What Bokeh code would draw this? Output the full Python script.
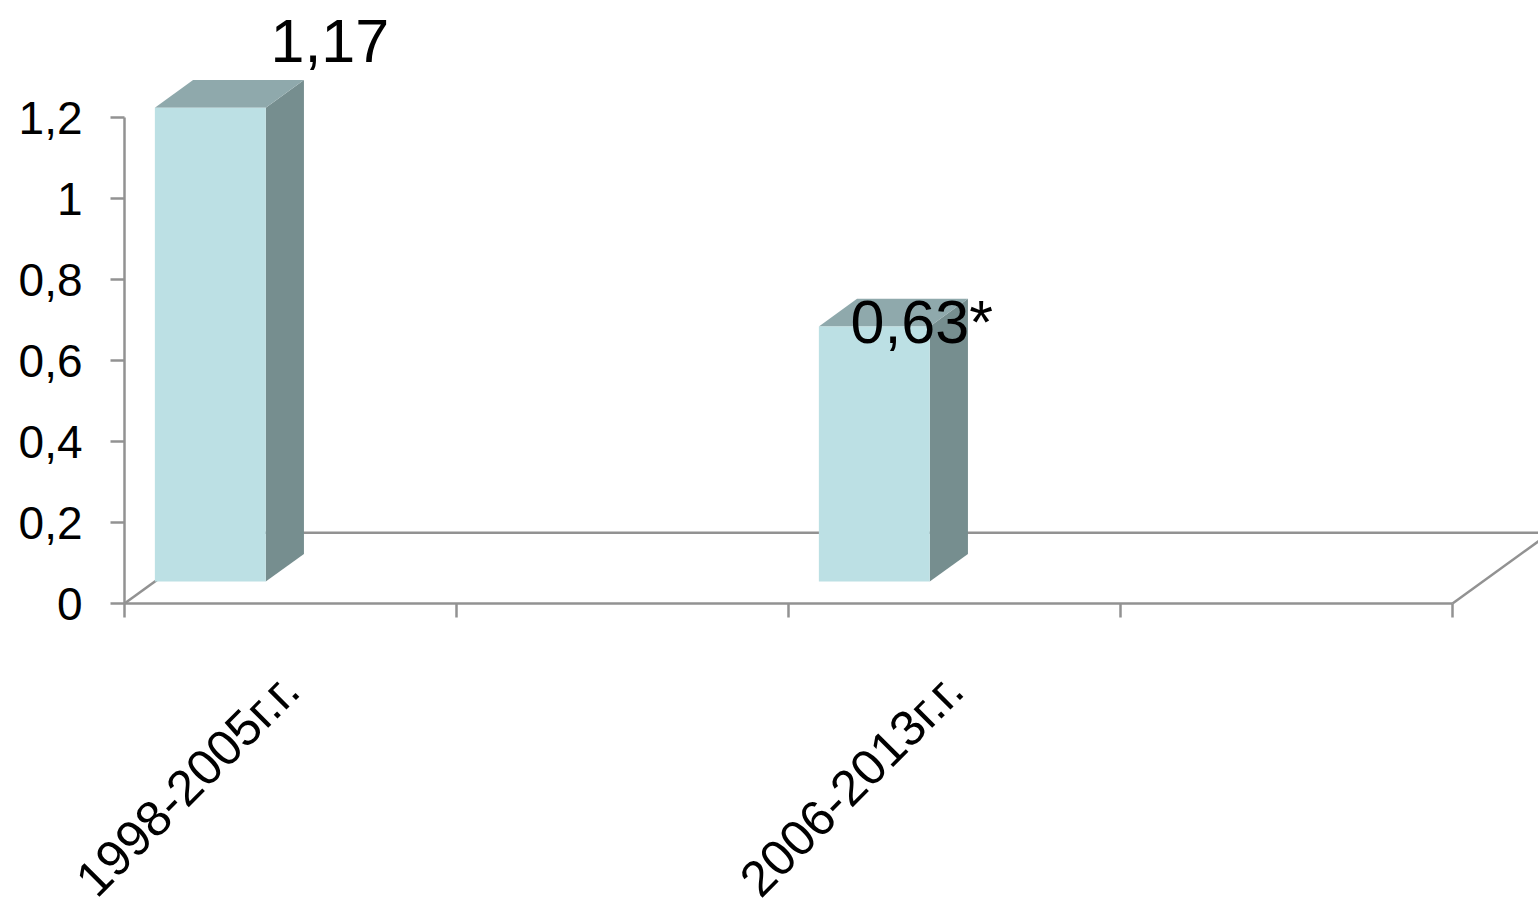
import math
from bokeh.plotting import figure
from bokeh.models import Range1d, FixedTicker, ColumnDataSource
from bokeh.core.properties import value
from bokeh.embed import file_html
from bokeh.resources import INLINE

# ---- data ----
slots = ["1998-2005г.г.", "", "2006-2013г.г.", ""]
values = [1.17, None, 0.63, None]
value_labels = ["1,17", None, "0,63*", None]
y_ticks = [0, 0.2, 0.4, 0.6, 0.8, 1.0, 1.2]
y_tick_labels = ["0", "0,2", "0,4", "0,6", "0,8", "1", "1,2"]

# ---- styles / layout ----
W, H = 1538, 902
LEFT_PX = 124                # pixel column of the value axis
BASE_PX = 603                # pixel row of value 0
PX_CAT = 332.0
PX_UNIT = 405.0
DX, DY = 0.295, 0.175        # floor depth (category units, value units)
F1, F2 = 0.31, 0.70          # bar depth span (fraction of floor depth)
BAR_W = 0.334
FRONT_C = "#bce0e4"
TOP_C = "#8fa9ac"
SIDE_C = "#768e8f"
AXIS_C = "#929292"
FONT = "Liberation Sans"
label_dx = [-20, None, -104, None]
label_dy = [-89, None, -26, None]

n = len(slots)
p = figure(width=W, height=H,
           x_range=Range1d(-LEFT_PX / PX_CAT, (W - LEFT_PX) / PX_CAT),
           y_range=Range1d(-(H - BASE_PX) / PX_UNIT, BASE_PX / PX_UNIT),
           output_backend="svg", toolbar_location=None,
           min_border_left=0, min_border_right=0,
           min_border_top=0, min_border_bottom=0)
p.outline_line_color = None
p.xgrid.visible = False
p.ygrid.visible = False
p.background_fill_color = "white"
p.border_fill_color = "white"

# floor edges
p.multi_line(xs=[[0, DX], [DX, n + DX], [n, n + DX]],
             ys=[[0, DY], [DY, DY], [0, DY]],
             line_color=AXIS_C, line_width=2.5)

# 3D bars
fx, fy, sx, sy, tx, ty = [], [], [], [], [], []
for i, v in enumerate(values):
    if v is None:
        continue
    x0 = i + F1 * DX
    x1 = x0 + BAR_W
    y0 = F1 * DY
    y1 = y0 + v
    ddx = (F2 - F1) * DX
    ddy = (F2 - F1) * DY
    fx.append([x0, x1, x1, x0]); fy.append([y0, y0, y1, y1])
    sx.append([x1, x1 + ddx, x1 + ddx, x1]); sy.append([y0, y0 + ddy, y1 + ddy, y1])
    tx.append([x0, x1, x1 + ddx, x0 + ddx]); ty.append([y1, y1, y1 + ddy, y1 + ddy])
p.patches(xs=sx, ys=sy, fill_color=SIDE_C, line_color=None)
p.patches(xs=tx, ys=ty, fill_color=TOP_C, line_color=None)
p.patches(xs=fx, ys=fy, fill_color=FRONT_C, line_color=None)

# value labels
lab = ColumnDataSource(dict(
    x=[i + 0.5 for i, v in enumerate(values) if v is not None],
    y=[v for v in values if v is not None],
    t=[value_labels[i] for i, v in enumerate(values) if v is not None],
    xo=[label_dx[i] for i, v in enumerate(values) if v is not None],
    yo=[label_dy[i] for i, v in enumerate(values) if v is not None],
))
p.text(x="x", y="y", text="t", x_offset="xo", y_offset="yo", source=lab,
       text_font=value(FONT), text_font_size="61px", text_color="black",
       text_align="left", text_baseline="alphabetic")

# y axis (fixed at category position 0)
ya = p.yaxis[0]
ya.fixed_location = 0
ya.ticker = FixedTicker(ticks=y_ticks, minor_ticks=[])
ya.major_label_overrides = dict(zip(y_ticks, y_tick_labels))
ya.bounds = (0, y_ticks[-1])
ya.axis_line_color = AXIS_C
ya.axis_line_width = 2.5
ya.major_tick_line_color = AXIS_C
ya.major_tick_line_width = 2.5
ya.major_tick_out = 14
ya.major_tick_in = 0
ya.minor_tick_line_color = None
ya.major_label_standoff = 28
ya.major_label_text_font = FONT
ya.major_label_text_font_size = "46px"
ya.major_label_text_color = "black"

# x axis (fixed at value 0)
xa = p.xaxis[0]
xa.fixed_location = 0
xt = [i + 0.5 for i, s in enumerate(slots) if s]
xa.ticker = FixedTicker(ticks=xt, minor_ticks=list(range(n + 1)))
xa.major_label_overrides = {i + 0.5: s for i, s in enumerate(slots) if s}
xa.bounds = (0, n)
xa.axis_line_color = AXIS_C
xa.axis_line_width = 2.5
xa.major_tick_line_color = None
xa.major_tick_out = 0
xa.major_tick_in = 0
xa.minor_tick_line_color = AXIS_C
xa.minor_tick_line_width = 2.5
xa.minor_tick_out = 14
xa.minor_tick_in = 0
xa.major_label_orientation = math.pi / 4
xa.major_label_standoff = 64
xa.major_label_text_font = FONT
xa.major_label_text_font_size = "50px"
xa.major_label_text_color = "black"

open("out.html", "w").write(file_html(p, INLINE))
